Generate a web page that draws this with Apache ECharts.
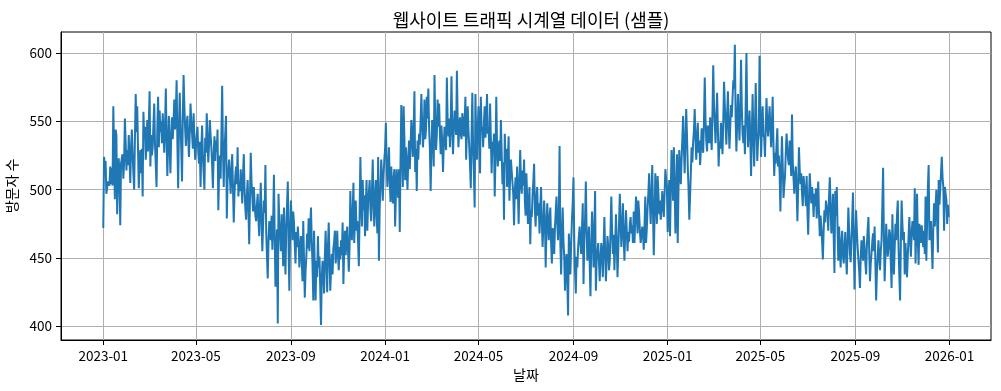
<!DOCTYPE html>
<html>
<head>
<meta charset="utf-8">
<script src="https://cdn.jsdelivr.net/npm/echarts@6/dist/echarts.min.js"></script>
<style>
  html, body { margin: 0; padding: 0; background: #fff; }
  #chart { width: 1001px; height: 391px; }
</style>
</head>
<body>
<div id="chart"></div>
<script>
// Daily visitor counts (start date 2023-01-01)
const startDate = '2023-01-01';
const visits2023JanApr = [
  472,524,518,521,497,498,506,507,503,517,
  504,516,503,561,527,493,544,540,482,505,
  523,511,474,519,523,526,508,520,552,535,
  514,529,518,540,522,505,531,544,526,512,
  500,538,570,542,561,530,501,519,529,512,
  530,495,557,537,546,522,534,551,528,549,
  572,517,540,525,531,548,563,533,518,502,
  545,568,531,558,542,550,534,556,540,527,
  547,574,538,510,535,554,530,512,540,553,
  537,549,566,544,557,580,533,501,545,571,
  548,530,506,552,584,562,545,532,548,554,
  537,524,541,563,550,541,530,556,538,522
];
const visits2023MayAug = [
  531,540,546,528,519,535,502,530,547,525,
  512,500,538,527,556,537,520,533,551,540,
  531,518,501,526,539,521,536,528,544,485,
  512,525,508,540,576,530,502,528,541,554,
  479,507,515,522,509,497,514,526,501,476,
  498,510,517,504,531,495,506,499,515,503,
  490,511,526,500,486,478,496,507,485,460,
  493,527,506,495,484,502,490,481,477,489,
  497,478,466,488,505,479,455,474,492,483,
  518,470,451,435,462,477,470,463,481,456,
  474,511,468,429,452,471,402,497,476,468,
  455,482,465,444,487,461,438,472,489,506,
  458,426,470
];
const visits2023SepDec = [
  492,478,463,484,476,460,446,469,458,473,
  462,443,455,466,450,433,477,449,421,440,
  451,468,457,479,455,470,487,463,445,419,
  470,441,419,448,436,466,443,451,428,401,
  436,448,439,424,452,470,447,425,458,476,
  449,426,441,453,438,457,462,470,446,455,
  470,452,441,458,449,463,452,476,431,455,
  470,452,466,473,455,440,458,499,472,463,
  484,505,461,478,492,470,477,462,444,483,
  524,490,473,507,485,496,466,488,507,470,
  491,498,507,486,477,499,522,490,473,495,
  507,481,468,524,448,486,503,522,509,492,
  510,522
];
const visits2024JanApr = [
  530,549,520,502,514,531,508,491,517,503,
  490,508,515,473,496,515,502,494,515,469,
  521,562,530,502,561,538,507,531,518,500,
  522,536,515,531,551,540,524,545,572,513,
  530,499,536,522,541,533,550,570,548,531,
  540,566,537,544,568,552,574,545,530,499,
  528,551,540,517,584,548,529,540,566,546,
  563,541,526,547,535,513,532,546,537,529,
  582,551,539,552,531,548,583,543,526,545,
  558,559,540,587,552,531,545,553,541,537,
  556,551,539,548,568,522,545,561,543,531,
  518,501,540,571,531,512,487,570,538,522,
  545
];
const visits2024MayAug = [
  561,539,512,568,544,546,531,549,561,538,
  551,570,541,546,530,563,537,512,535,527,
  541,495,524,568,532,517,530,536,521,551,
  527,504,520,478,541,519,530,502,521,539,
  492,510,522,513,505,497,474,499,509,493,
  517,498,475,506,529,504,497,514,503,522,
  492,481,512,495,475,489,502,460,485,480,
  496,506,519,485,473,494,502,481,490,468,
  487,502,476,458,474,492,478,443,470,490,
  476,463,479,487,461,446,472,468,453,472,
  484,495,475,463,481,532,460,438,466,487,
  463,451,426,445,453,432,408,468,452,438,
  461,478,490
];
const visits2024SepDec = [
  509,463,440,424,451,443,458,466,473,460,
  453,471,490,431,462,478,506,470,448,461,
  473,445,422,459,484,466,443,470,499,426,
  448,454,461,447,433,450,461,452,436,458,
  480,455,433,449,466,459,441,448,471,495,
  470,453,467,441,459,482,463,436,455,475,
  497,476,458,472,490,466,448,468,485,470,
  455,469,462,475,480,468,474,461,484,461,
  479,495,481,468,492,483,470,461,466,473,
  469,456,474,495,461,472,487,498,512,490,
  475,497,518,483,452,480,512,493,475,510,
  497,482,492,478,485,499,490,480,497,515,
  508,502
];
const visits2025JanApr = [
  469,490,507,466,498,529,510,492,531,503,
  468,497,526,461,500,529,515,504,522,538,
  554,530,512,536,559,540,517,501,478,495,
  512,531,520,535,543,559,537,522,538,549,
  527,536,518,529,545,533,527,550,582,551,
  536,528,547,540,534,553,541,529,556,591,
  562,548,534,552,571,546,517,535,530,549,
  539,526,550,579,562,548,533,555,572,548,
  530,545,562,553,567,580,574,606,552,528,
  549,570,551,536,559,595,560,541,534,547,
  526,561,600,553,531,545,558,537,510,542,
  570,539,517,545,578,548,521,535,541,598
];
const visits2025MayAug = [
  560,524,545,561,540,538,524,546,567,548,
  539,551,561,544,531,549,568,533,510,527,
  519,533,545,517,525,512,484,515,539,518,
  494,503,510,528,541,530,522,518,536,524,
  510,555,521,508,497,511,517,500,477,502,
  531,515,504,512,497,488,510,503,497,488,
  510,484,467,493,512,501,490,502,495,480,
  497,488,501,479,492,506,482,466,481,473,
  462,449,470,485,476,492,488,482,470,495,
  509,487,468,480,497,465,439,499,481,502,
  472,448,473,460,443,459,470,452,446,458,
  469,451,438,462,487,470,453,447,463,479,
  498,461,427
];
const visits2025SepDec = [
  462,485,470,458,449,441,428,450,463,455,
  448,466,458,447,438,459,471,480,455,433,
  446,453,462,468,455,473,446,419,440,452,
  463,450,441,455,463,488,516,467,433,452,
  475,462,451,458,471,468,446,428,482,459,
  438,457,475,463,481,492,458,437,419,461,
  492,475,463,469,438,461,449,436,452,466,
  480,463,451,468,477,470,463,501,446,471,
  497,462,445,475,466,461,474,465,458,470,
  453,495,448,476,502,518,463,470,477,459,
  442,471,490,473,488,500,476,454,507,489,
  500,512,524,509,502,470,502,497,492,475,
  489,480
];
const xTickLabels = ['2023-01','2023-05','2023-09','2024-01','2024-05','2024-09','2025-01','2025-05','2025-09','2026-01'];
const yTickValues = [400, 450, 500, 550, 600];

const visits = [].concat(
  visits2023JanApr, visits2023MayAug, visits2023SepDec,
  visits2024JanApr, visits2024MayAug, visits2024SepDec,
  visits2025JanApr, visits2025MayAug, visits2025SepDec
);

const DAY = 86400000;
const t0 = Date.UTC(+startDate.slice(0,4), +startDate.slice(5,7) - 1, +startDate.slice(8,10));
const tickDays = xTickLabels.map(s => Math.round((Date.UTC(+s.slice(0,4), +s.slice(5,7) - 1, 1) - t0) / DAY));
const seriesData = visits.map((v, i) => [i, v]);

// matplotlib-style 5% margins on x
const nDays = visits.length - 1;
const xMin = -0.05 * nDays, xMax = nDays * 1.05;
const yMin = 390, yMax = 615.4;

const FONT = "'Noto Sans CJK KR', 'Noto Sans', sans-serif";
const chart = echarts.init(document.getElementById('chart'), null, { renderer: 'canvas' });
chart.setOption({
  animation: false,
  backgroundColor: '#ffffff',
  title: {
    text: '웹사이트 트래픽 시계열 데이터 (샘플)',
    left: 526, top: 6, textAlign: 'center',
    textStyle: { fontFamily: FONT, fontSize: 18, fontWeight: 'normal', color: '#000' }
  },
  grid: {
    left: 61, right: 10, top: 32, bottom: 51,
    show: true, borderColor: '#000', borderWidth: 1,
    outerBoundsMode: 'none', containLabel: false
  },
  xAxis: {
    type: 'value', min: xMin, max: xMax,
    name: '날짜', nameLocation: 'middle', nameGap: 24,
    nameTextStyle: { fontFamily: FONT, fontSize: 14, color: '#000' },
    axisLine: { show: true, onZero: false, lineStyle: { color: '#000', width: 1 } },
    axisTick: { show: true, length: 5, customValues: tickDays, lineStyle: { color: '#000', width: 1 } },
    axisLabel: {
      customValues: tickDays, margin: 9,
      fontFamily: FONT, fontSize: 13.5, color: '#000',
      formatter: v => { const k = tickDays.indexOf(Math.round(v)); return k >= 0 ? xTickLabels[k] : ''; }
    },
    splitLine: { show: true, lineStyle: { color: '#b0b0b0', width: 1 } }
  },
  yAxis: {
    type: 'value', min: yMin, max: yMax,
    name: '방문자 수', nameLocation: 'middle', nameGap: 40, nameRotate: 90,
    nameTextStyle: { fontFamily: FONT, fontSize: 14, color: '#000' },
    axisLine: { show: true, onZero: false, lineStyle: { color: '#000', width: 1 } },
    axisTick: { show: true, length: 5, customValues: yTickValues, lineStyle: { color: '#000', width: 1 } },
    axisLabel: { customValues: yTickValues, margin: 9, fontFamily: FONT, fontSize: 13.5, color: '#000' },
    splitLine: { show: true, lineStyle: { color: '#b0b0b0', width: 1 } }
  },
  series: [{
    type: 'line',
    data: seriesData,
    showSymbol: false,
    symbol: 'none',
    sampling: null,
    lineStyle: { color: '#1f77b4', width: 2 },
    itemStyle: { color: '#1f77b4' },
    z: 3
  }]
});
</script>
</body>
</html>
